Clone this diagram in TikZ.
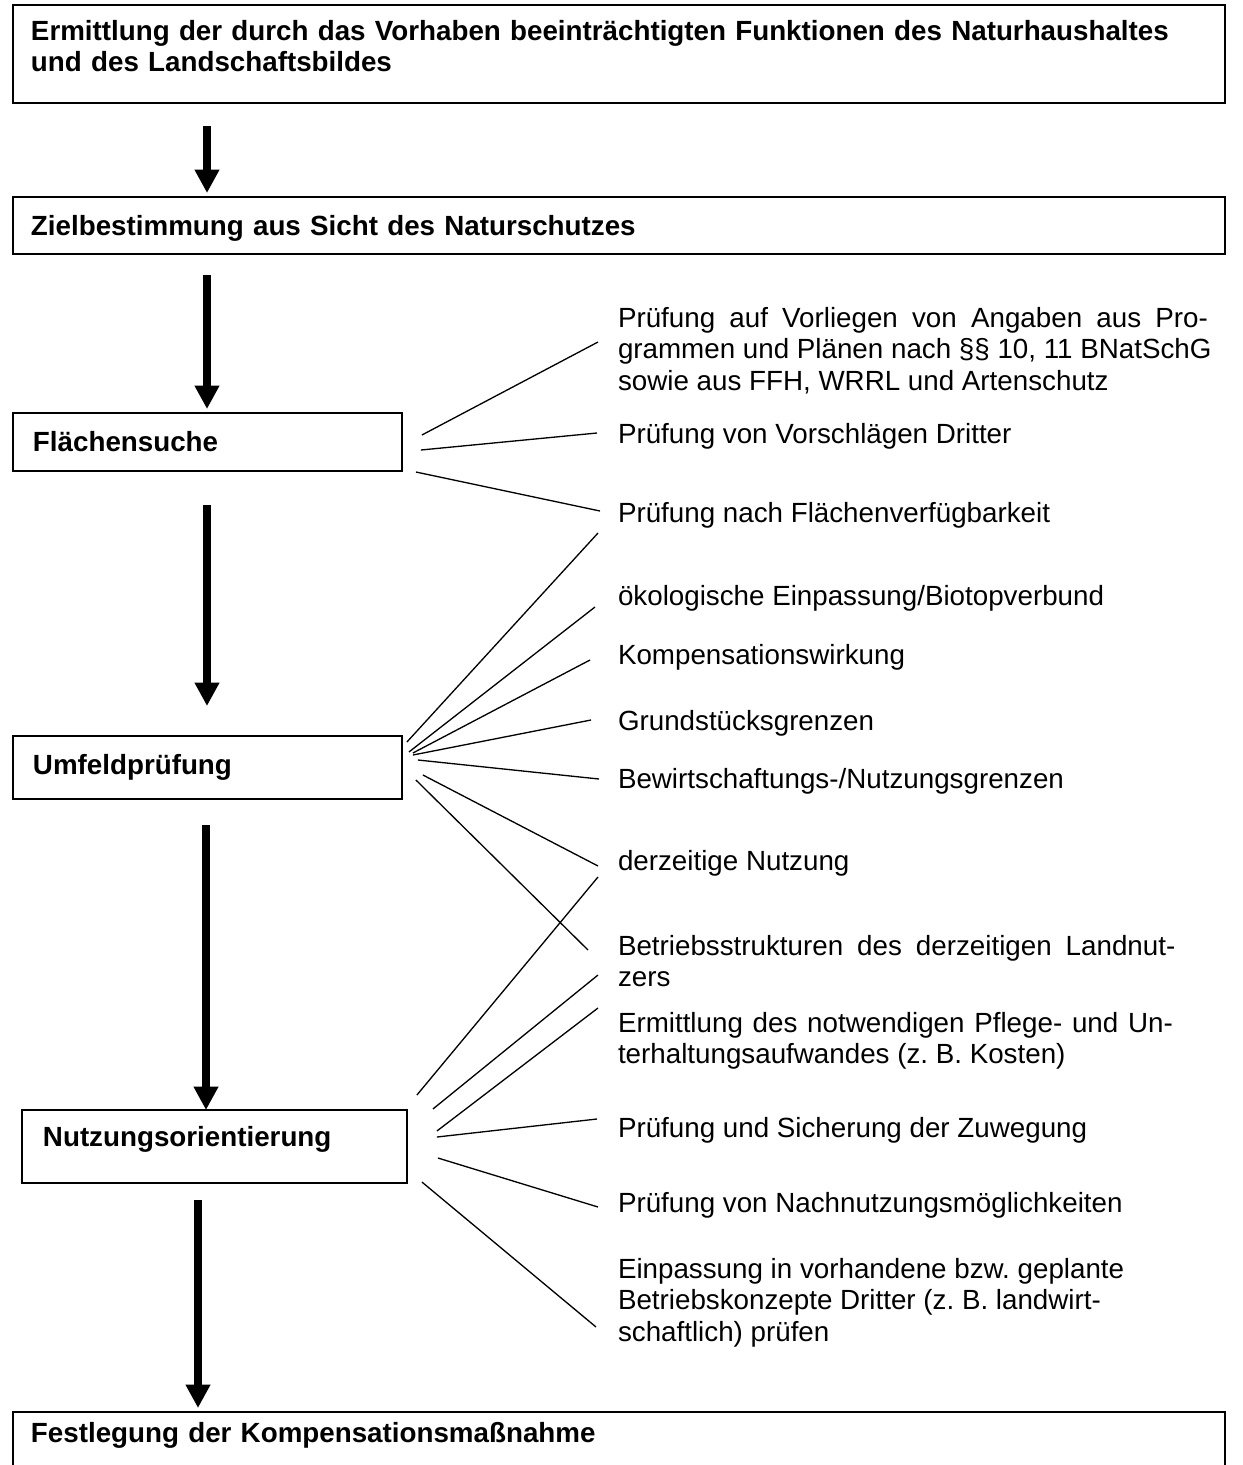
\documentclass[tikz,border=0pt]{standalone}
\usepackage{fontspec}
\setmainfont{Liberation Sans}
\usetikzlibrary{arrows.meta}

\begin{document}
\begin{tikzpicture}[x=0.02cm,y=-0.02cm,
  every node/.style={inner sep=0pt,outer sep=0pt,font=\fontsize{15.8}{18}\selectfont\frenchspacing},
  box/.style={draw,line width=0.9pt,anchor=north west,align=left,inner xsep=0.36cm,inner ysep=0pt,
    font=\fontsize{15.8}{18}\selectfont\bfseries\frenchspacing},
  lab/.style={anchor=north west,align=left},
  flow/.style={line width=4.2pt,-{Triangle[length=0.47cm,width=0.47cm]}},
  fan/.style={line width=0.75pt}]
\useasboundingbox (0,0) rectangle (1242,1465);
\node[box,text width=23.52cm,text height=0.70cm,text depth=1.26cm] (top) at (13,5)
  {Ermittlung der durch das Vorhaben beeinträchtigten Funktionen des Naturhaushaltes\\und des Landschaftsbildes};
\node[box,text width=23.52cm,text height=0.76cm,text depth=0.38cm] (ziel) at (13,197) {Zielbestimmung aus Sicht des Naturschutzes};
\node[box,inner xsep=0.4cm,text width=6.98cm,text height=0.76cm,text depth=0.40cm] (fs) at (13,413) {Flächensuche};
\node[box,inner xsep=0.4cm,text width=6.98cm,text height=0.76cm,text depth=0.50cm] (umf) at (13,736) {Umfeldprüfung};
\node[box,inner xsep=0.42cm,text width=6.86cm,text height=0.72cm,text depth=0.74cm] (nut) at (22,1110) {Nutzungsorientierung};
\node[box,text width=23.52cm,text height=0.60cm,text depth=0.66cm] (fest) at (13,1412) {Festlegung der Kompensationsmaßnahme};

\node[lab] (l1) at (618,305) {\strut\makebox[11.8cm][s]{Prüfung auf Vorliegen von Angaben aus Pro-}\\grammen und Plänen nach §§ 10, 11 BNatSchG\\sowie aus FFH, WRRL und Artenschutz};
\node[lab] (l2) at (618,421) {\strut Prüfung von Vorschlägen Dritter};
\node[lab] (l3) at (618,500) {\strut Prüfung nach Flächenverfügbarkeit};
\node[lab] (l4) at (618,583) {\strut ökologische Einpassung/Biotopverbund};
\node[lab] (l5) at (618,642) {\strut Kompensationswirkung};
\node[lab] (l6) at (618,708) {\strut Grundstücksgrenzen};
\node[lab] (l7) at (618,766) {\strut Bewirtschaftungs-/Nutzungsgrenzen};
\node[lab] (l8) at (618,848) {\strut derzeitige Nutzung};
\node[lab] (l9) at (618,933) {\strut\makebox[11.15cm][s]{Betriebsstrukturen des derzeitigen Landnut-}\\zers};
\node[lab] (l10) at (618,1010) {\strut\makebox[11.1cm][s]{Ermittlung des notwendigen Pflege- und Un-}\\terhaltungsaufwandes (z. B. Kosten)};
\node[lab] (l11) at (618,1115) {\strut Prüfung und Sicherung der Zuwegung};
\node[lab] (l12) at (618,1190) {\strut Prüfung von Nachnutzungsmöglichkeiten};
\node[lab] (l13) at (618,1256) {\strut Einpassung in vorhandene bzw. geplante\\Betriebskonzepte Dritter (z. B. landwirt-\\schaftlich) prüfen};

\draw[flow] ([shift={(194,23)}]top.south west) -- ([shift={(194,-4)}]ziel.north west);
\draw[flow] ([shift={(194,21)}]ziel.south west) -- ([shift={(194,-4)}]fs.north west);
\draw[flow] ([shift={(194,34)}]fs.south west) -- ([shift={(194,-30)}]umf.north west);
\draw[flow] ([shift={(193,26)}]umf.south west) -- ([shift={(184,0)}]nut.north west);
\draw[flow] ([shift={(176,17)}]nut.south west) -- ([shift={(185,-4)}]fest.north west);

\draw[fan] ([shift={(20,22)}]fs.north east) -- ([shift={(-20,37)}]l1.north west);
\draw[fan] ([shift={(19,37)}]fs.north east) -- ([shift={(-21,12)}]l2.north west);
\draw[fan] ([shift={(14,59)}]fs.north east) -- ([shift={(-18,11)}]l3.north west);

\draw[fan] ([shift={(5,6)}]umf.north east) -- ([shift={(-20,33)}]l3.north west);
\draw[fan] ([shift={(7,16)}]umf.north east) -- ([shift={(-23,24)}]l4.north west);
\draw[fan] ([shift={(11,17)}]umf.north east) -- ([shift={(-28,18)}]l5.north west);
\draw[fan] ([shift={(11,19)}]umf.north east) -- ([shift={(-27,12)}]l6.north west);
\draw[fan] ([shift={(16,24)}]umf.north east) -- ([shift={(-19,13)}]l7.north west);
\draw[fan] ([shift={(21,39)}]umf.north east) -- ([shift={(-20,18)}]l8.north west);
\draw[fan] ([shift={(14,44)}]umf.north east) -- ([shift={(-30,17)}]l9.north west);

\draw[fan] ([shift={(10,-15)}]nut.north east) -- ([shift={(-20,29)}]l8.north west);
\draw[fan] ([shift={(26,-1)}]nut.north east) -- ([shift={(-20,42)}]l9.north west);
\draw[fan] ([shift={(30,21)}]nut.north east) -- ([shift={(-20,-2)}]l10.north west);
\draw[fan] ([shift={(30,27)}]nut.north east) -- ([shift={(-21,4)}]l11.north west);
\draw[fan] ([shift={(31,48)}]nut.north east) -- ([shift={(-20,17)}]l12.north west);
\draw[fan] ([shift={(15,72)}]nut.north east) -- ([shift={(-22,71)}]l13.north west);
\end{tikzpicture}
\end{document}
